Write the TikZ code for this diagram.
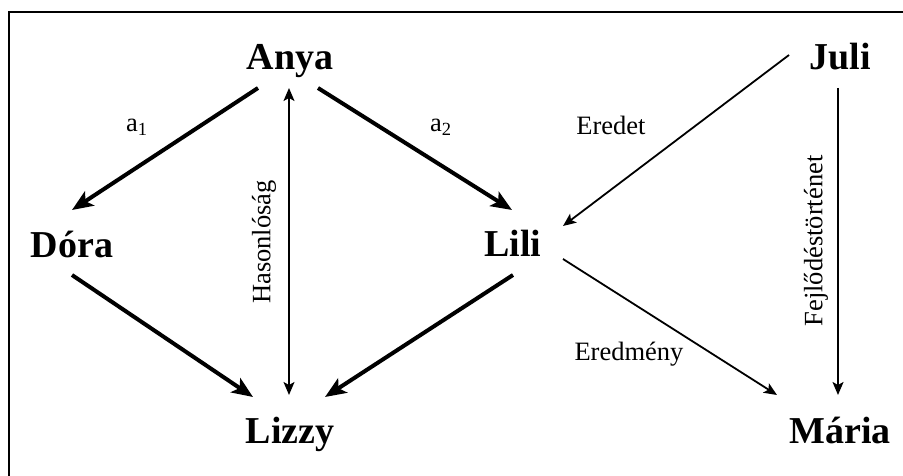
\documentclass[tikz,border=0pt]{standalone}
\usepackage{fontspec}
\setmainfont{Liberation Serif}
\usetikzlibrary{calc,arrows.meta}

\begin{document}
\begin{tikzpicture}[x=1pt, y=-1pt,
		person/.style={anchor=base, inner sep=0pt, font=\fontsize{38}{40}\selectfont\bfseries},
		lab/.style={inner sep=0pt, font=\fontsize{26.5}{28}\selectfont},
		heavy/.style={line width=4pt, -{Stealth[length=21pt,width=17pt,inset=5pt]}},
		light/.style={line width=1.8pt, -{Stealth[length=13pt,width=11pt,inset=3pt]}},
		both/.style={line width=1.8pt, {Stealth[length=13pt,width=11pt,inset=3pt]}-{Stealth[length=13pt,width=11pt,inset=3pt]}}]
			%%%%% FRAME %%%%%
			
			\useasboundingbox (0, 0) rectangle (903, 476);
			\draw[line width=2.4pt] (8.7, 476) -- (8.7, 12) -- (903, 12);
			
			%%%%% NAMES %%%%%
			
			\node[person] (anya) at (290, 70) {Anya};
			\node[person] (juli) at (840, 70) {Juli};
			\node[person] (dora) at (72, 257) {Dóra};
			\node[person] (lili) at (513, 256) {Lili};
			\node[person] (lizzy) at (290, 443) {Lizzy};
			\node[person] (maria) at (840, 443) {Mária};
			
			%%%%% ARROWS %%%%%
			
			\draw[heavy] ($(anya.base)+(-32, 18)$) -- ($(dora.base)+(0, -47)$);
			\draw[heavy] ($(anya.base)+(28, 18)$) -- ($(lili.base)+(-1, -46)$);
			\draw[heavy] ($(dora.base)+(0, 18)$) -- ($(lizzy.base)+(-37, -46)$);
			\draw[heavy] ($(lili.base)+(0, 19)$) -- ($(lizzy.base)+(35, -46)$);
			
			\draw[both] ($(anya.base)+(-1, 18)$) -- ($(lizzy.base)+(-1, -48)$);
			\draw[light] ($(juli.base)+(-51, -15)$) -- ($(lili.base)+(50, -30)$);
			\draw[light] ($(lili.base)+(50, 3)$) -- ($(maria.base)+(-63, -48)$);
			\draw[light] ($(juli.base)+(-2, 18)$) -- ($(maria.base)+(-2, -48)$);
			
			%%%%% LABELS %%%%%
			
			\node[lab, anchor=base west] (a1) at (126, 132) {a\textsubscript{1}};
			\node[lab, anchor=base west] (a2) at (430, 132) {a\textsubscript{2}};
			\node[lab, rotate=90] (hason) at (264, 242) {Hasonlóság};
			\node[lab, anchor=base] (eredet) at (611, 135) {Eredet};
			\node[lab, anchor=base] (eredmeny) at (629, 360) {Eredmény};
			\node[lab, rotate=90] (fejl) at (816, 241) {Fejlődéstörténet};
			
			%%%%% END %%%%%
\end{tikzpicture}
\end{document}
